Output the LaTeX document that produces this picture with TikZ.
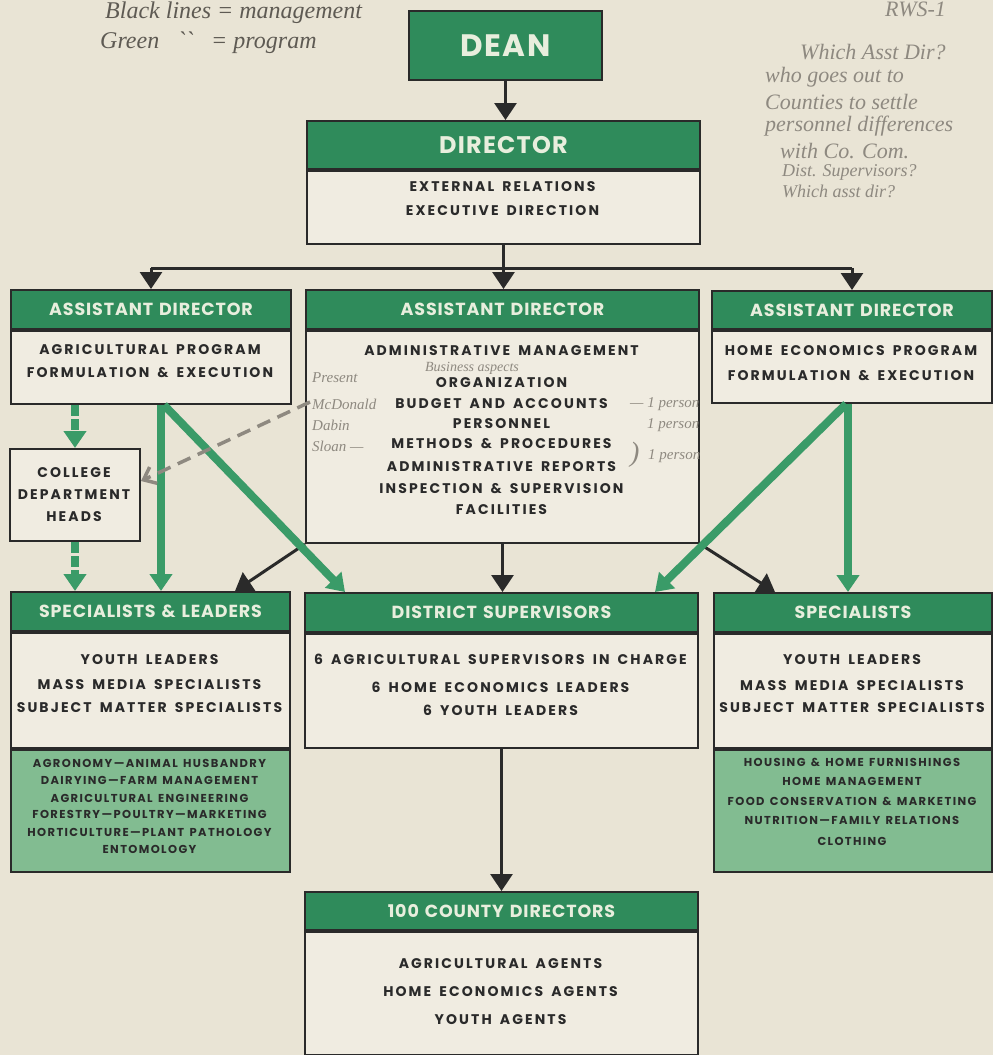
\documentclass[tikz,border=0pt]{standalone}
\usepackage{fontspec}
\setmainfont{Poppins}
\newfontfamily\popb{Poppins}[LetterSpace=15,WordSpace=1.6]
\newfontfamily\pops{Poppins}[LetterSpace=12,WordSpace=1.4]
\newfontfamily\poph{Poppins}[LetterSpace=5,WordSpace=1.3]
\newfontfamily\hand{Liberation Serif}
\usetikzlibrary{arrows.meta}
\definecolor{paper}{HTML}{E9E4D5}
\definecolor{boxbg}{HTML}{F0ECE1}
\definecolor{hdrgreen}{HTML}{2F8B5B}
\definecolor{litegreen}{HTML}{82BC91}
\definecolor{hdrtext}{HTML}{E8EEDD}
\definecolor{arrgreen}{HTML}{3A9B68}
\definecolor{ink}{HTML}{2A2A2A}
\definecolor{pencil}{HTML}{8E8980}
\definecolor{pencildark}{HTML}{5E5A53}
\newcommand\fbody{\popb\bfseries\fontsize{14}{16}\selectfont}
\newcommand\fsmall{\pops\bfseries\fontsize{11.5}{13}\selectfont}
\newcommand\fhdr{\poph\bfseries\fontsize{17.5}{19}\selectfont}
\newcommand\fdir{\poph\bfseries\fontsize{24}{26}\selectfont}
\newcommand\fdean{\poph\bfseries\fontsize{31}{33}\selectfont}
\newcommand\Tline[4]{\node[#1] (#2) at (#3) {#4};}
\begin{document}
\begin{tikzpicture}[x=1pt,y=-1pt,
  hdr/.style={draw=ink, line width=2pt, fill=hdrgreen, text=hdrtext, font=\fhdr,
    anchor=north west, inner sep=0pt, text height=12pt, text depth=0pt},
  body/.style={draw=ink, line width=2pt, fill=boxbg, anchor=north west, inner sep=0pt},
  lgbody/.style={body, fill=litegreen},
  bt/.style={font=\fbody, text=ink, inner sep=0pt, text height=9.5pt, text depth=0pt},
  st/.style={font=\fsmall, text=ink, inner sep=0pt, text height=8pt, text depth=0pt},
  blk/.style={draw=ink, line width=3pt, -{Triangle[width=22pt,length=17pt]}},
  blkline/.style={draw=ink, line width=3pt},
  grn/.style={draw=arrgreen, line width=8pt, -{Triangle[width=22pt,length=17pt]}},
  grnd/.style={grn, dash pattern=on 11pt off 3pt},
  hw/.style={font=\hand\itshape\fontsize{22}{24}\selectfont, text=pencil, inner sep=0pt},
  hwdark/.style={hw, text=pencildark, font=\hand\itshape\fontsize{24}{26}\selectfont},
  hwsmall/.style={hw, font=\hand\itshape\fontsize{15}{17}\selectfont}
]
\useasboundingbox (0,0) rectangle (993,1055);
\fill[paper] (0,0) rectangle (993,1055);

% ---------- boxes ----------
\node[hdr, font=\fdean, text height=22pt, minimum width=193pt, minimum height=69pt] (dean) at (408,10) {DEAN};

\node[hdr, font=\fdir, text height=17pt, minimum width=393pt, minimum height=48pt] (dirh) at (306,120) {DIRECTOR};
\node[body, minimum width=393pt, minimum height=73pt] (dir) at (dirh.south west) {};

\node[hdr, minimum width=280pt, minimum height=39pt] (ad1h) at (10,289) {ASSISTANT DIRECTOR};
\node[body, minimum width=280pt, minimum height=73pt] (ad1) at (ad1h.south west) {};

\node[hdr, minimum width=393pt, minimum height=39pt] (ad2h) at (305,289) {ASSISTANT DIRECTOR};
\node[body, minimum width=393pt, minimum height=212pt] (ad2) at (ad2h.south west) {};

\node[hdr, minimum width=280pt, minimum height=38pt] (ad3h) at (711,290) {ASSISTANT DIRECTOR};
\node[body, minimum width=280pt, minimum height=72pt] (ad3) at (ad3h.south west) {};

\node[body, minimum width=130pt, minimum height=92pt] (coll) at (9,448) {};

\node[hdr, minimum width=279pt, minimum height=39pt] (slh) at (10,591) {SPECIALISTS \& LEADERS};
\node[body, minimum width=279pt, minimum height=115pt] (sl) at (slh.south west) {};
\node[lgbody, minimum width=279pt, minimum height=122pt] (slg) at (sl.south west) {};

\node[hdr, minimum width=393pt, minimum height=39pt] (dsh) at (304,592) {DISTRICT SUPERVISORS};
\node[body, minimum width=393pt, minimum height=114pt] (ds) at (dsh.south west) {};

\node[hdr, minimum width=278pt, minimum height=39pt] (sph) at (713,592) {SPECIALISTS};
\node[body, minimum width=278pt, minimum height=114pt] (sp) at (sph.south west) {};
\node[lgbody, minimum width=278pt, minimum height=122pt] (spg) at (sp.south west) {};

\node[hdr, minimum width=393pt, minimum height=38pt] (cdh) at (304,891) {100 COUNTY DIRECTORS};
\node[body, minimum width=393pt, minimum height=123pt] (cd) at (cdh.south west) {};

% ---------- texts ----------
\Tline{bt}{d1}{502.5,187}{EXTERNAL RELATIONS}
\Tline{bt}{d2}{502.5,211}{EXECUTIVE DIRECTION}

\Tline{bt}{a11}{150,350}{AGRICULTURAL PROGRAM}
\Tline{bt}{a12}{150,373}{FORMULATION \& EXECUTION}

\Tline{bt}{a21}{501.5,351}{ADMINISTRATIVE MANAGEMENT}
\Tline{bt}{a22}{501.5,383}{ORGANIZATION}
\Tline{bt}{a23}{501.5,404}{BUDGET AND ACCOUNTS}
\Tline{bt}{a24}{501.5,424}{PERSONNEL}
\Tline{bt}{a25}{501.5,444}{METHODS \& PROCEDURES}
\Tline{bt}{a26}{501.5,467}{ADMINISTRATIVE REPORTS}
\Tline{bt}{a27}{501.5,489}{INSPECTION \& SUPERVISION}
\Tline{bt}{a28}{501.5,510}{FACILITIES}

\Tline{bt}{a31}{851,351}{HOME ECONOMICS PROGRAM}
\Tline{bt}{a32}{851,376}{FORMULATION \& EXECUTION}

\Tline{bt}{c1}{74,473}{COLLEGE}
\Tline{bt}{c2}{74,495}{DEPARTMENT}
\Tline{bt}{c3}{74,517}{HEADS}

\Tline{bt}{s1}{149.5,660}{YOUTH LEADERS}
\Tline{bt}{s2}{149.5,685}{MASS MEDIA SPECIALISTS}
\Tline{bt}{s3}{149.5,708}{SUBJECT MATTER SPECIALISTS}
\Tline{st}{g1}{149.5,763}{AGRONOMY—ANIMAL HUSBANDRY}
\Tline{st}{g2}{149.5,780}{DAIRYING—FARM MANAGEMENT}
\Tline{st}{g3}{149.5,798}{AGRICULTURAL ENGINEERING}
\Tline{st}{g4}{149.5,814}{FORESTRY—POULTRY—MARKETING}
\Tline{st}{g5}{149.5,832}{HORTICULTURE—PLANT PATHOLOGY}
\Tline{st}{g6}{149.5,849}{ENTOMOLOGY}

\Tline{bt}{ds1}{500.5,660}{6 AGRICULTURAL SUPERVISORS IN CHARGE}
\Tline{bt}{ds2}{500.5,688}{6 HOME ECONOMICS LEADERS}
\Tline{bt}{ds3}{500.5,711}{6 YOUTH LEADERS}

\Tline{bt}{p1}{852,660}{YOUTH LEADERS}
\Tline{bt}{p2}{852,686}{MASS MEDIA SPECIALISTS}
\Tline{bt}{p3}{852,708}{SUBJECT MATTER SPECIALISTS}
\Tline{st}{h1}{852,762}{HOUSING \& HOME FURNISHINGS}
\Tline{st}{h2}{852,781}{HOME MANAGEMENT}
\Tline{st}{h3}{852,801}{FOOD CONSERVATION \& MARKETING}
\Tline{st}{h4}{852,820}{NUTRITION—FAMILY RELATIONS}
\Tline{st}{h5}{852,841}{CLOTHING}

\Tline{bt}{cd1}{500.5,964}{AGRICULTURAL AGENTS}
\Tline{bt}{cd2}{500.5,992}{HOME ECONOMICS AGENTS}
\Tline{bt}{cd3}{500.5,1020}{YOUTH AGENTS}

% ---------- connectors: management (black) ----------
\draw[blk] (dean.south) -- (dean.south |- dirh.north);
\coordinate (j) at ([yshift=-23pt]dir.south);
\draw[blkline] (dir.south) -- (j);
\draw[blkline] (ad1h.north |- j) -- (ad3h.north |- j);
\draw[blk] (ad1h.north |- j) -- (ad1h.north);
\draw[blk] (j) -- (j |- ad2h.north);
\draw[blk] (ad3h.north |- j) -- (ad3h.north);
\draw[blk] (ad2.south west) -- ([xshift=-56pt]slh.north east);
\draw[blk] (ad2.south) -- (ad2.south |- dsh.north);
\draw[blk] (ad2.south east) -- ([xshift=62pt]sph.north west);
\draw[blk] (ds.south) -- (ds.south |- cdh.north);

% ---------- connectors: program (green) ----------
\draw[grnd] (coll.north |- ad1.south) -- (coll.north);
\draw[grnd] (coll.south) -- (coll.south |- slh.north);
\draw[grn] ([xshift=10pt]ad1.south) -- ([xshift=10pt]ad1.south |- slh.north);
\draw[grn] ([xshift=13pt]ad1.south) -- ([xshift=41pt]dsh.north west);
\draw[grn] ([xshift=-4pt]ad3.south) -- ([xshift=-4pt]ad3.south |- sph.north);
\draw[grn] ([xshift=-6pt]ad3.south) -- ([xshift=-44pt]dsh.north east);

% ---------- handwritten notes ----------
\node[hwdark, anchor=west] (n1) at (105,13) {Black lines = management};
\node[hwdark, anchor=west] (n2) at (100,43) {Green \ \ `` \ \ = program};
\node[hw, anchor=west] (n3) at (885,9) {RWS-1};
\node[hw, anchor=west] (r1) at (800,52) {Which Asst Dir?};
\node[hw, anchor=west] (r2) at (765,77) {who goes out to};
\node[hw, anchor=west] (r3) at (765,102) {Counties to settle};
\node[hw, anchor=west] (r4) at (765,126) {personnel differences};
\node[hw, anchor=west] (r5) at (780,151) {with Co. Com.};
\node[hw, anchor=west, font=\hand\itshape\fontsize{18}{20}\selectfont] (r6) at (782,172) {Dist. Supervisors?};
\node[hw, anchor=west, font=\hand\itshape\fontsize{18}{20}\selectfont] (r7) at (782,191) {Which asst dir?};

\node[hwsmall, font=\hand\itshape\fontsize{14}{16}\selectfont] (b1) at (472,368) {Business aspects};
\node[hwsmall, anchor=west] (m1) at (312,378) {Present};
\node[hwsmall, anchor=west] (m2) at (312,404) {McDonald};
\node[hwsmall, anchor=west] (m3) at (312,425) {Dabin};
\node[hwsmall, anchor=west] (m4) at (312,446) {Sloan —};
\node[hwsmall, anchor=west] (q1) at (630,404) {— 1 person};
\node[hwsmall, anchor=west] (q2) at (647,425) {1 person};
\node[hwsmall, anchor=west, font=\hand\itshape\fontsize{28}{30}\selectfont] (q3) at (630,455) {)};
\node[hwsmall, anchor=west] (q4) at (648,456) {1 person};
\coordinate (hstart) at (310,402);
\draw[pencil, line width=3.5pt, dash pattern=on 14pt off 8pt,
  -{Straight Barb[length=11pt,width=18pt]}] (hstart) -- ([yshift=14pt]coll.east);
\end{tikzpicture}
\end{document}
